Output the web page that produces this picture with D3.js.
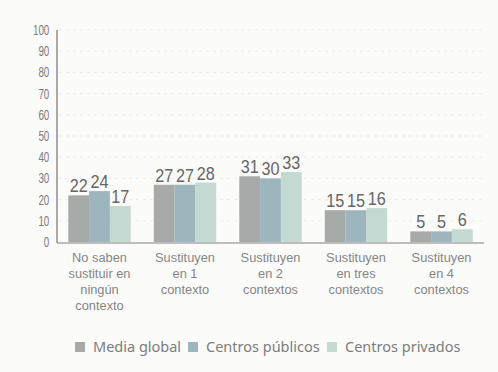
<!DOCTYPE html>
<html>
<head>
<meta charset="utf-8">
<script src="https://cdn.jsdelivr.net/npm/d3@7/dist/d3.min.js"></script>
<style>
  html, body { margin: 0; padding: 0; background: #fbfbfa; }
  svg { display: block; }
</style>
</head>
<body>
<svg id="chart" width="498" height="372"></svg>
<script>
// Categories (multi-line labels) and series
const categories = [
  ["No saben", "sustituir en", "ningún", "contexto"],
  ["Sustituyen", "en 1", "contexto"],
  ["Sustituyen", "en 2", "contextos"],
  ["Sustituyen", "en tres", "contextos"],
  ["Sustituyen", "en 4", "contextos"]
];
const seriesNames = ["Media global", "Centros públicos", "Centros privados"];
const mediaGlobal = [22, 27, 31, 15, 5];
const centrosPublicos = [24, 27, 30, 15, 5];
const centrosPrivados = [17, 28, 33, 16, 6];
const yTicks = [0, 10, 20, 30, 40, 50, 60, 70, 80, 90, 100];
const colors = ["#a8aaaa", "#9db5bd", "#c5d9d3"];

const series = [mediaGlobal, centrosPublicos, centrosPrivados];
const svg = d3.select("#chart");

const plotLeft = 57, plotRight = 484, plotTop = 30, plotBottom = 242;
const narrowFont = "'Liberation Sans', Arial, sans-serif";

const x0 = d3.scaleBand()
  .domain(d3.range(categories.length))
  .range([plotLeft, plotRight])
  .paddingInner(0.27)
  .paddingOuter(0.132);
const x1 = d3.scaleBand()
  .domain(d3.range(series.length))
  .range([0, x0.bandwidth()]);
const y = d3.scaleLinear().domain([0, 100]).range([plotBottom, plotTop]);

// faint dotted gridlines
svg.append("g")
  .selectAll("line")
  .data(yTicks.filter(d => d > 0))
  .join("line")
  .attr("x1", plotLeft + 2).attr("x2", plotRight)
  .attr("y1", d => y(d)).attr("y2", d => y(d))
  .attr("stroke", "#ebebeb")
  .attr("stroke-width", 1)
  .attr("stroke-dasharray", "3,4");

// y axis labels (condensed)
const yAxis = d3.axisLeft(y).tickValues(yTicks).tickSize(0).tickPadding(11);
const gy = svg.append("g").attr("transform", `translate(${plotLeft},0)`).call(yAxis);
gy.select(".domain").remove();
gy.selectAll("text")
  .attr("font-family", narrowFont)
  .attr("font-size", 14)
  .attr("fill", "#7a7a7a")
  .attr("transform", "scale(0.7,1)");

// bars
const groups = svg.append("g")
  .selectAll("g")
  .data(categories.map((c, i) => i))
  .join("g")
  .attr("transform", i => `translate(${x0(i)},0)`);

groups.selectAll("rect")
  .data(i => series.map((s, k) => ({ k, v: s[i] })))
  .join("rect")
  .attr("x", d => x1(d.k))
  .attr("width", x1.bandwidth())
  .attr("y", d => y(d.v))
  .attr("height", d => y(0) - y(d.v))
  .attr("fill", d => colors[d.k]);

groups.selectAll("text.val")
  .data(i => series.map((s, k) => ({ k, v: s[i] })))
  .join("text")
  .attr("class", "val")
  .attr("transform", d => `translate(${x1(d.k) + x1.bandwidth() / 2},${y(d.v) - 3}) scale(0.9,1)`)
  .attr("text-anchor", "middle")
  .attr("font-family", narrowFont)
  .attr("font-size", 18)
  .attr("fill", "#666")
  .text(d => d.v);

// axis lines
svg.append("line")
  .attr("x1", plotLeft).attr("x2", plotLeft)
  .attr("y1", y(100)).attr("y2", y(0) + 1)
  .attr("stroke", "#a9a9a9").attr("stroke-width", 2);
svg.append("line")
  .attr("x1", plotLeft).attr("x2", plotRight)
  .attr("y1", y(0) + 1).attr("y2", y(0) + 1)
  .attr("stroke", "#a9a9a9").attr("stroke-width", 1.5);

// category labels
const cat = svg.append("g")
  .selectAll("text")
  .data(categories.map((c, i) => ({ c, i })))
  .join("text")
  .attr("transform", d => `translate(${x0(d.i) + x0.bandwidth() / 2},262) scale(0.95,1)`)
  .attr("text-anchor", "middle")
  .attr("font-family", narrowFont)
  .attr("font-size", 13.5)
  .attr("fill", "#858585");
cat.selectAll("tspan")
  .data(d => d.c)
  .join("tspan")
  .attr("x", 0)
  .attr("dy", (d, j) => j === 0 ? 0 : 16)
  .text(d => d);

// legend
const legendX = [75, 188, 327];
const lg = svg.append("g")
  .selectAll("g")
  .data(seriesNames.map((n, k) => ({ n, k })))
  .join("g")
  .attr("transform", d => `translate(${legendX[d.k]},342)`);
lg.append("rect")
  .attr("width", 10).attr("height", 10)
  .attr("fill", d => colors[d.k]);
lg.append("text")
  .attr("x", 18).attr("y", 10)
  .attr("font-family", "'Noto Sans', 'Open Sans', sans-serif")
  .attr("font-size", 14.5)
  .attr("fill", "#7d7d7d")
  .text(d => d.n);
</script>
</body>
</html>
